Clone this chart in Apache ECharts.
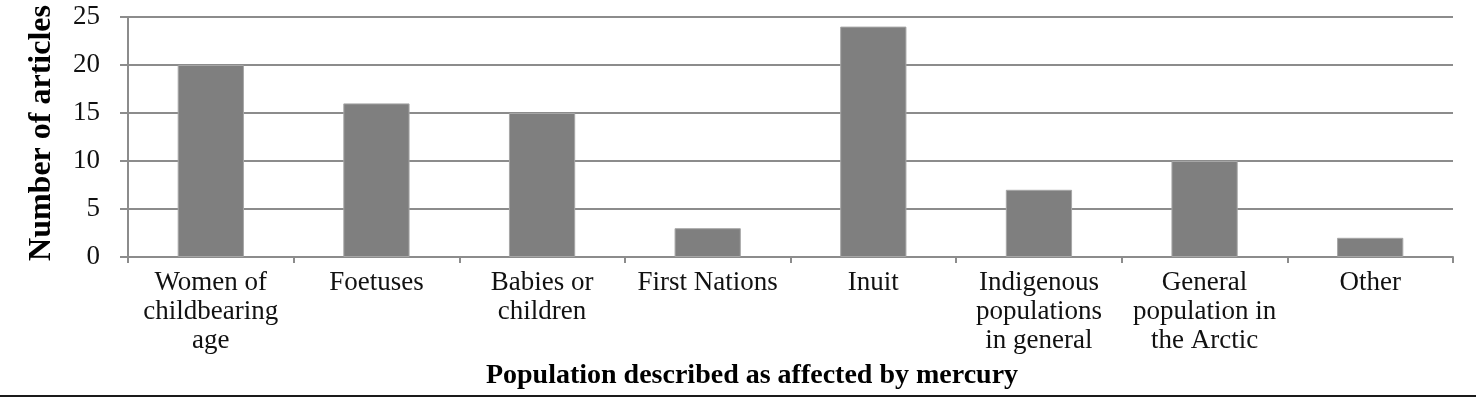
<!DOCTYPE html>
<html>
<head>
<meta charset="utf-8">
<script src="https://cdn.jsdelivr.net/npm/echarts@6/dist/echarts.min.js"></script>
<style>html,body{margin:0;padding:0;background:#fff;}#c{width:1476px;height:398px;}</style>
</head>
<body>
<div id="c"></div>
<script>
const categories = [
  "Women of\nchildbearing\nage",
  "Foetuses",
  "Babies or\nchildren",
  "First Nations",
  "Inuit",
  "Indigenous\npopulations\nin general",
  "General\npopulation in\nthe Arctic",
  "Other"
];
const articleCounts = [20, 16, 15, 3, 24, 7, 10, 2];
const yTicks = [0, 5, 10, 15, 20, 25];
const xTitle = "Population described as affected by mercury";
const yTitle = "Number of articles";

const FONT = '"Liberation Serif", "Times New Roman", serif';
const chart = echarts.init(document.getElementById('c'), null, {renderer: 'canvas'});
chart.setOption({
  animation: false,
  backgroundColor: '#fff',
  grid: {left: 128, right: 23, top: 17, bottom: 141, containLabel: false},
  xAxis: {
    type: 'category',
    data: categories,
    axisLine: {show: true, lineStyle: {color: '#8c8c8c', width: 2}},
    axisTick: {show: true, alignWithLabel: false, length: 6, lineStyle: {color: '#8c8c8c', width: 2}},
    axisLabel: {interval: 0, margin: 11, fontFamily: FONT, fontSize: 27, lineHeight: 29, color: '#111', align: 'center'},
    splitLine: {show: false}
  },
  yAxis: {
    type: 'value',
    min: yTicks[0],
    max: yTicks[yTicks.length - 1],
    interval: yTicks[1] - yTicks[0],
    axisLine: {show: true, lineStyle: {color: '#8c8c8c', width: 2}},
    axisTick: {show: true, length: 8, lineStyle: {color: '#8c8c8c', width: 2}},
    axisLabel: {margin: 28, fontFamily: FONT, fontSize: 27, color: '#111'},
    splitLine: {show: true, lineStyle: {color: '#8c8c8c', width: 2}}
  },
  series: [{
    type: 'bar',
    data: articleCounts,
    barWidth: '40%',
    itemStyle: {color: '#7f7f7f', borderColor: '#a6a6a6', borderWidth: 1}
  }],
  graphic: [
    {type: 'text', x: 752, y: 376, style: {text: xTitle, font: 'bold 28px ' + FONT, fill: '#000', textAlign: 'center', textVerticalAlign: 'middle'}},
    {type: 'text', x: 42, y: 133, rotation: Math.PI / 2, style: {text: yTitle, font: 'bold 32px ' + FONT, fill: '#000', textAlign: 'center', textVerticalAlign: 'middle'}},
    {type: 'rect', shape: {x: 0, y: 395, width: 1476, height: 2}, style: {fill: '#1a1a1a'}}
  ]
});
</script>
</body>
</html>
